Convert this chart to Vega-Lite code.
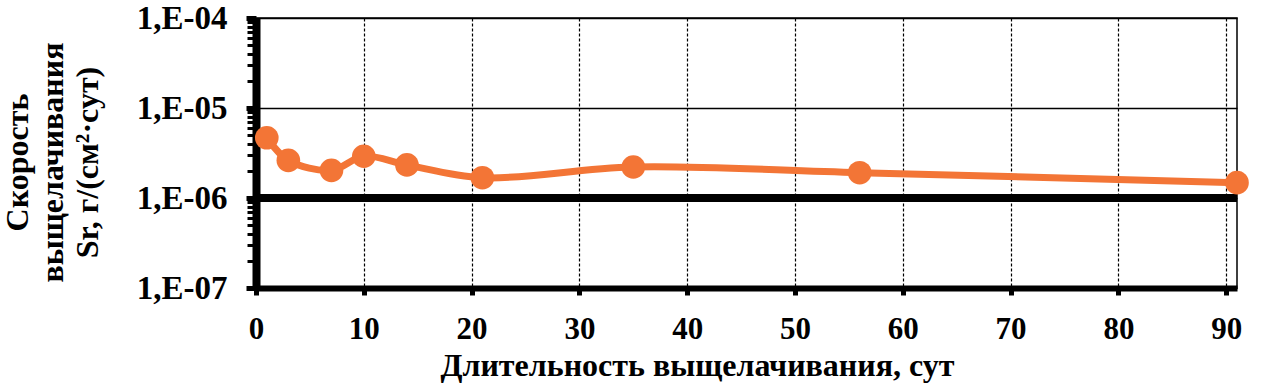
{
  "$schema": "https://vega.github.io/schema/vega-lite/v6.json",
  "width": 981,
  "height": 270,
  "autosize": {"type": "none"},
  "padding": {"left": 256, "top": 18, "right": 26, "bottom": 95},
  "background": "white",
  "config": {
    "view": {"stroke": "black", "strokeWidth": 1.5},
    "font": "Liberation Serif"
  },
  "data": {
    "values": [
      {"day": 1, "rate": 4.67e-6},
      {"day": 3, "rate": 2.62e-6},
      {"day": 7, "rate": 2.03e-6},
      {"day": 10, "rate": 2.91e-6},
      {"day": 14, "rate": 2.33e-6},
      {"day": 21, "rate": 1.68e-6},
      {"day": 35, "rate": 2.21e-6},
      {"day": 56, "rate": 1.91e-6},
      {"day": 91, "rate": 1.48e-6}
    ]
  },
  "resolve": {"axis": {"y": "independent"}},
  "layer": [
    {
      "mark": {"type": "rule", "color": "black", "strokeWidth": 7},
      "encoding": {
        "y": {
          "datum": 1e-6,
          "type": "quantitative",
          "scale": {"type": "log", "domain": [1e-7, 1e-4]},
          "axis": {
            "orient": "left",
            "values": [2e-7, 3e-7, 4e-7, 5e-7, 6e-7, 7e-7, 8e-7, 9e-7, 2e-6, 3e-6, 4e-6, 5e-6, 6e-6, 7e-6, 8e-6, 9e-6, 2e-5, 3e-5, 4e-5, 5e-5, 6e-5, 7e-5, 8e-5, 9e-5],
            "labels": false,
            "domain": false,
            "grid": false,
            "title": null,
            "ticks": true,
            "tickSize": 9,
            "tickWidth": 3,
            "tickColor": "black"
          }
        }
      }
    },
    {
      "mark": {"type": "line", "color": "#F37536", "strokeWidth": 7, "interpolate": "catmull-rom"},
      "encoding": {
        "x": {
          "field": "day",
          "type": "quantitative",
          "scale": {"domain": [0, 91], "nice": false, "zero": false},
          "axis": {
            "values": [0, 10, 20, 30, 40, 50, 60, 70, 80, 90],
            "title": "Длительность выщелачивания, сут",
            "titleFont": "Liberation Serif",
            "titleFontSize": 32,
            "titleFontWeight": "bold",
            "titleColor": "black",
            "titleX": 441,
            "titleY": 62,
            "titleBaseline": "top",
            "labelFont": "Liberation Serif",
            "labelFontSize": 31,
            "labelFontWeight": "bold",
            "labelColor": "black",
            "labelPadding": 19,
            "labelFlush": false,
            "domainColor": "black",
            "domainWidth": 6,
            "tickColor": "black",
            "tickWidth": 5,
            "tickSize": 7,
            "grid": true,
            "gridColor": "black",
            "gridWidth": 1.2,
            "gridDash": [3, 2],
            "gridOpacity": 1
          }
        },
        "y": {
          "field": "rate",
          "type": "quantitative",
          "scale": {"type": "log", "domain": [1e-7, 1e-4]},
          "axis": {
            "orient": "left",
            "values": [1e-7, 1e-6, 1e-5, 1e-4],
            "labelExpr": "'1,E-0' + round(-log(datum.value)/LN10)",
            "title": ["Скорость", "выщелачивания", "Sr, г/(см²·сут)"],
            "titleFont": "Liberation Serif",
            "titleFontSize": 32,
            "titleFontWeight": "bold",
            "titleColor": "black",
            "titleLineHeight": 35,
            "titleAnchor": "middle",
            "titleX": -222,
            "titleY": 144,
            "labelFont": "Liberation Serif",
            "labelFontSize": 33,
            "labelFontWeight": "bold",
            "labelColor": "black",
            "labelPadding": 19,
            "labelFlush": false,
            "domainColor": "black",
            "domainWidth": 8,
            "tickColor": "black",
            "tickWidth": 5,
            "tickSize": 10,
            "grid": true,
            "gridColor": "black",
            "gridWidth": 1.5,
            "gridOpacity": 1
          }
        }
      }
    },
    {
      "mark": {"type": "circle", "color": "#F37536", "opacity": 1, "size": 560},
      "encoding": {
        "x": {"field": "day", "type": "quantitative"},
        "y": {"field": "rate", "type": "quantitative", "axis": null}
      }
    }
  ]
}
